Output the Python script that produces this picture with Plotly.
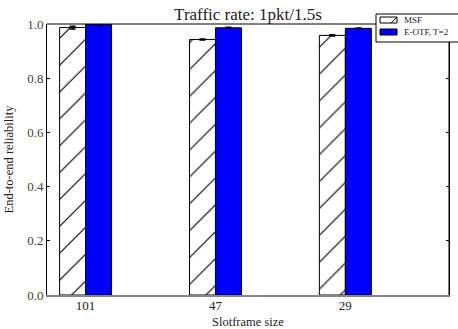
import plotly.graph_objects as go

# Reliability per slotframe size for the two scheduling functions
slotframe_sizes = ["101", "47", "29"]
series_names = ["MSF", "E-OTF, T=2"]
msf_reliability = [0.987, 0.943, 0.958]
msf_error = [0.005, 0.002, 0.002]
eotf_reliability = [0.998, 0.986, 0.984]
eotf_error = [0.001, 0.002, 0.001]

SERIF = "Liberation Serif"
TEXT = "#222222"
BLUE = "#0000ff"

W, H = 458, 329
ML, MR, MT, MB = 47, 9, 24, 34
PW, PH = W - ML - MR, H - MT - MB


def px_x(x):
    """Pixel column -> paper x."""
    return (x - ML) / PW


def px_y(y):
    """Pixel row -> paper y."""
    return (H - MB - y) / PH


fig = go.Figure()

fig.add_trace(go.Bar(
    name=series_names[0],
    x=slotframe_sizes,
    y=msf_reliability,
    showlegend=False,
    error_y=dict(type="data", array=msf_error, color="black", thickness=1.5, width=3),
    marker=dict(
        color="white",
        line=dict(color="black", width=1),
        pattern=dict(shape="/", fgcolor="black", bgcolor="white", fgopacity=1,
                     size=19, solidity=0.06),
    ),
))

fig.add_trace(go.Bar(
    name=series_names[1],
    x=slotframe_sizes,
    y=eotf_reliability,
    showlegend=False,
    error_y=dict(type="data", array=eotf_error, color="black", thickness=1.5, width=3),
    marker=dict(color=BLUE, line=dict(color="black", width=1)),
))

shapes = [
    # top and right spines of the axes box
    dict(type="line", xref="paper", yref="paper", x0=0, x1=1, y0=1, y1=1,
         line=dict(color="black", width=1)),
    dict(type="line", xref="paper", yref="paper", x0=1, x1=1, y0=0, y1=1,
         line=dict(color="black", width=1)),
    # legend frame
    dict(type="rect", xref="paper", yref="paper",
         x0=px_x(376), x1=px_x(475), y0=px_y(42), y1=px_y(14),
         fillcolor="white", line=dict(color="black", width=1), layer="above"),
    # legend swatch: hatched MSF
    dict(type="rect", xref="paper", yref="paper",
         x0=px_x(380), x1=px_x(397), y0=px_y(23), y1=px_y(17),
         fillcolor="white", line=dict(color="black", width=1), layer="above"),
    dict(type="line", xref="paper", yref="paper",
         x0=px_x(391), x1=px_x(397), y0=px_y(23), y1=px_y(17),
         line=dict(color="black", width=1), layer="above"),
    # legend swatch: solid E-OTF
    dict(type="rect", xref="paper", yref="paper",
         x0=px_x(380), x1=px_x(397), y0=px_y(35), y1=px_y(29),
         fillcolor=BLUE, line=dict(color="black", width=1), layer="above"),
]

annotations = [
    dict(text=series_names[0], xref="paper", yref="paper", x=px_x(402), y=px_y(20),
         xanchor="left", yanchor="middle", showarrow=False,
         font=dict(family=SERIF, size=9, color=TEXT)),
    dict(text=series_names[1], xref="paper", yref="paper", x=px_x(402), y=px_y(32),
         xanchor="left", yanchor="middle", showarrow=False,
         font=dict(family=SERIF, size=9, color=TEXT)),
]

fig.update_layout(
    width=W,
    height=H,
    margin=dict(l=ML, r=MR, t=MT, b=MB, autoexpand=False),
    paper_bgcolor="white",
    plot_bgcolor="white",
    barmode="group",
    bargap=0.6,
    bargroupgap=0,
    showlegend=False,
    font=dict(family=SERIF, size=13, color=TEXT),
    title=dict(
        text="Traffic rate: 1pkt/1.5s",
        x=0.5 * (ML + W - MR) / W,
        xanchor="center",
        y=1 - 14 / H,
        yanchor="middle",
        font=dict(family=SERIF, size=17, color=TEXT),
    ),
    shapes=shapes,
    annotations=annotations,
    xaxis=dict(
        range=[-0.297, 2.798],
        showline=True,
        linecolor="#888888",
        linewidth=2,
        ticks="",
        ticklabelstandoff=-3,
        showgrid=False,
        title=dict(text="Slotframe size", font=dict(family=SERIF, size=12.5, color=TEXT), standoff=6),
        tickfont=dict(family=SERIF, size=13, color=TEXT),
    ),
    yaxis=dict(
        range=[0, 1.0],
        dtick=0.2,
        tickformat=".1f",
        showline=True,
        linecolor="black",
        linewidth=1,
        mirror="ticks",
        ticks="inside",
        ticklen=3,
        tickcolor="black",
        showgrid=False,
        zeroline=False,
        title=dict(text="End-to-end reliability", font=dict(family=SERIF, size=12.5, color=TEXT), standoff=10),
        tickfont=dict(family=SERIF, size=13, color="#444444"),
    ),
)

fig.write_html("out.html")
